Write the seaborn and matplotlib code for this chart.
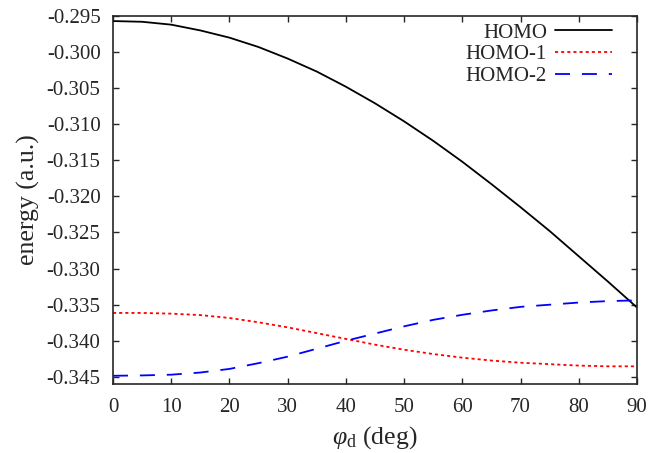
import matplotlib
matplotlib.use("Agg")
import matplotlib.pyplot as plt
import seaborn as sns
import pandas as pd

angle = [0, 5, 10, 15, 20, 25, 30, 35, 40, 45, 50, 55, 60, 65, 70, 75, 80, 85, 90]
homo = [-0.2957, -0.2958, -0.2962, -0.2970, -0.2980, -0.2993, -0.3009, -0.3027,
        -0.3048, -0.3071, -0.3096, -0.3123, -0.3152, -0.3183, -0.3215, -0.3248,
        -0.3283, -0.3318, -0.3354]
homo1 = [-0.33615, -0.33615, -0.33625, -0.33645, -0.33685, -0.33745, -0.33815,
         -0.33895, -0.33975, -0.34055, -0.34125, -0.34185, -0.34235, -0.34275,
         -0.34305, -0.34325, -0.34345, -0.34355, -0.34355]
homo2 = [-0.34486, -0.34481, -0.34471, -0.34441, -0.34391, -0.34311, -0.34221,
         -0.34111, -0.34001, -0.33901, -0.33801, -0.33711, -0.33641, -0.33581,
         -0.33531, -0.33501, -0.33471, -0.33451, -0.33441]
labels = ["HOMO", "HOMO-1", "HOMO-2"]
colors = ["black", "red", "blue"]

sns.set_style("ticks")
plt.rcParams["font.family"] = ["Liberation Serif", "DejaVu Serif"]
plt.rcParams["mathtext.fontset"] = "custom"
plt.rcParams["mathtext.rm"] = "Liberation Serif"
plt.rcParams["mathtext.it"] = "Liberation Serif:italic"

fig = plt.figure(figsize=(6.64, 4.53), dpi=100)
ax = fig.add_axes([113 / 664, 1 - 384 / 453, (637 - 113) / 664, (384 - 16) / 453])

lw = 1.3
styles = [None, (1.7, 1.7), (8.3, 6.6)]
for vals, lab, col, dash in zip([homo, homo1, homo2], labels, colors, styles):
    df = pd.DataFrame({"angle": angle, "energy": vals})
    sns.lineplot(data=df, x="angle", y="energy", ax=ax, color=col,
                 linewidth=lw, label=lab)
    if dash is not None:
        ax.lines[-1].set_dashes(dash)

ax.set_xlim(0, 90)
ax.set_ylim(-0.346, -0.295)
ax.set_xticks(range(0, 91, 10))
yt = [-0.345 + 0.005 * i for i in range(11)]
ax.set_yticks(yt)
ax.set_yticklabels([f"{v:.3f}" for v in yt])
ax.tick_params(direction="in", length=4.5, width=1, top=True, right=True,
               labelsize=15)
ax.tick_params(axis="y", pad=9)
ax.tick_params(axis="x", pad=10)
for s in ax.spines.values():
    s.set_linewidth(1.2)
    s.set_visible(True)

ax.set_xlabel(r"$\varphi_{\rm d}$ (deg)", fontsize=18.5, labelpad=5)
ax.set_ylabel("energy (a.u.)", fontsize=18.5, labelpad=5)

leg = ax.legend(loc="upper right", frameon=False, markerfirst=False, fontsize=15,
                handlelength=2.74, handletextpad=0.38, labelspacing=0.1,
                borderaxespad=0.0, borderpad=0.0,
                bbox_to_anchor=((612 - 113) / 524, (384 - 23) / 368))
for t in leg.get_texts():
    t.set_ha("right")

fig.savefig("out.png", dpi=100)
